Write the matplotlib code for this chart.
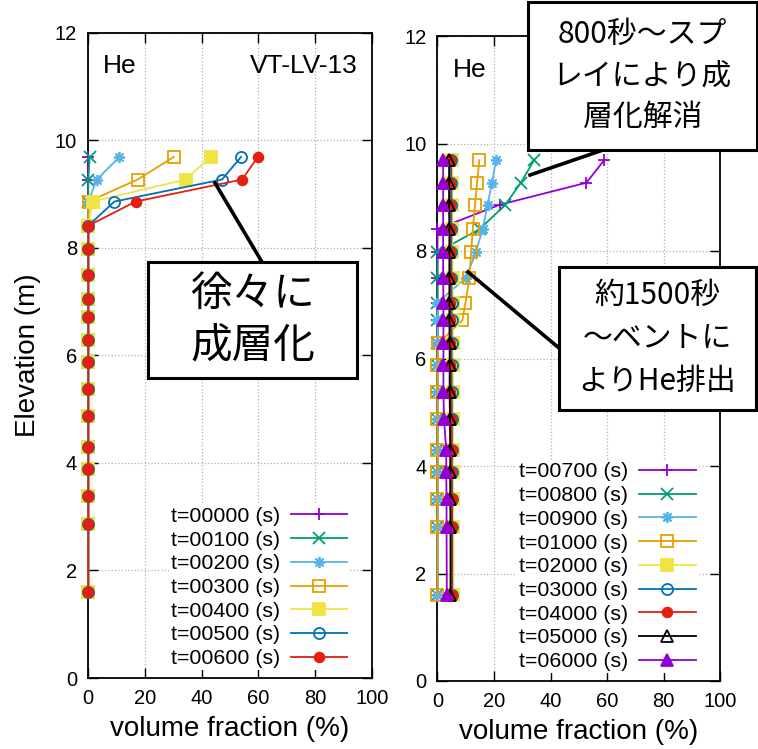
import matplotlib
matplotlib.use("Agg")
import matplotlib.pyplot as plt
from matplotlib.lines import Line2D
from matplotlib.patches import Rectangle

plt.rcParams['font.family'] = ['Liberation Sans', 'Noto Sans CJK JP', 'DejaVu Sans']

# elevation of the nodes (m)
elev = [1.6, 2.87, 3.38, 3.88, 4.3, 4.87, 5.37, 5.88, 6.28, 6.71, 7.04, 7.5, 7.98, 8.41, 8.86, 9.27, 9.69]

#region left panel data (volume fraction %)
left_labels = ["t=00000 (s)", "t=00100 (s)", "t=00200 (s)", "t=00300 (s)",
               "t=00400 (s)", "t=00500 (s)", "t=00600 (s)"]
t00000 = [0, 0, 0, 0, 0, 0, 0, 0, 0, 0, 0, 0, 0, 0, 0, 0, 0]
t00100 = [0, 0, 0, 0, 0, 0, 0, 0, 0, 0, 0, 0, 0, 0, 0, 0, 0.5]
t00200 = [0, 0, 0, 0, 0, 0, 0, 0, 0, 0, 0, 0, 0, 0, 0, 3.0, 11.0]
t00300 = [0, 0, 0, 0, 0, 0, 0, 0, 0, 0, 0, 0, 0, 0, 0.1, 17.4, 30.2]
t00400 = [0, 0, 0, 0, 0, 0, 0, 0, 0, 0, 0, 0, 0, 0, 1.5, 34.3, 43.2]
t00500 = [0, 0, 0, 0, 0, 0, 0, 0, 0, 0, 0, 0, 0, 0, 9.2, 47.2, 53.9]
t00600 = [0, 0, 0, 0, 0, 0, 0, 0, 0, 0, 0, 0, 0, 0, 16.7, 54.3, 59.8]
left_series = [t00000, t00100, t00200, t00300, t00400, t00500, t00600]
#endregion

#region right panel data
right_labels = ["t=00700 (s)", "t=00800 (s)", "t=00900 (s)", "t=01000 (s)", "t=02000 (s)",
                "t=03000 (s)", "t=04000 (s)", "t=05000 (s)", "t=06000 (s)"]
t00700 = [0, 0, 0, 0, 0, 0, 0, 0, 0, 0, 0, 0, 0, 0, 22.0, 52.7, 59.0]
t00800 = [0, 0, 0, 0, 0, 0, 0, 0, 0, 0, 0, 0, 0, 15.0, 24.0, 29.5, 34.2]
t00900 = [0, 0, 0, 0, 0, 0, 0, 0, 0, 0, 0, 10.1, 13.6, 16.0, 17.7, 19.3, 20.7]
t01000 = [0, 0, 0, 0, 0, 0, 0, 0, 0.3, 8.8, 9.9, 11.3, 11.9, 12.5, 13.3, 14.0, 14.8]
t02000 = [5.6, 5.6, 5.6, 5.5, 5.5, 5.5, 5.5, 5.4, 5.4, 5.4, 5.4, 5.4, 5.3, 5.3, 5.3, 5.3, 5.2]
t03000 = [5.2, 5.2, 5.2, 5.1, 5.1, 5.1, 5.0, 5.0, 5.0, 5.0, 5.0, 4.9, 4.9, 4.9, 4.9, 4.9, 4.8]
t04000 = [5.0, 5.0, 5.0, 4.8, 5.1, 4.8, 4.6, 4.6, 4.6, 4.5, 4.5, 4.5, 4.5, 4.4, 4.4, 4.4, 4.4]
t05000 = [4.6, 4.6, 4.5, 4.5, 4.5, 4.4, 4.3, 4.3, 4.3, 4.2, 4.2, 4.2, 4.2, 4.2, 4.1, 4.1, 4.1]
t06000 = [3.3, 3.2, 3.2, 3.1, 3.1, 2.3, 2.1, 2.1, 2.1, 2.1, 2.1, 2.0, 2.0, 2.0, 2.0, 2.0, 2.0]
right_series = [t00700, t00800, t00900, t01000, t02000, t03000, t04000, t05000, t06000]
#endregion

# gnuplot-like styles: (color, marker, filled)
styles = [
    ('#9400d3', '+', True),
    ('#009e73', 'x', True),
    ('#56b4e9', (8, 2, 0), True),
    ('#e69f00', 's', False),
    ('#f0e442', 's', True),
    ('#0072b2', 'o', False),
    ('#e51e10', 'o', True),
    ('#000000', '^', False),
    ('#9400d3', '^', True),
]

W, H = 758, 749
fig = plt.figure(figsize=(W / 100, H / 100), dpi=100)


def rect(x0, x1, ytop, ybot):
    return [x0 / W, 1 - ybot / H, (x1 - x0) / W, (ybot - ytop) / H]


axL = fig.add_axes(rect(88.3, 371.7, 32.7, 678))
axR = fig.add_axes(rect(437.5, 720, 36, 681))


def draw(ax, series, labels, style_list):
    for vals, lab, (c, m, filled) in zip(series, labels, style_list):
        ms = 7 if m == 'o' and filled else 8
        ax.plot(vals, elev, color=c, lw=1.3, marker=m, ms=ms, mew=1.3,
                mfc=c if filled else 'none', mec=c, label=lab, clip_on=False, zorder=3)
    ax.set_xlim(0, 100)
    ax.set_ylim(0, 12)
    ax.set_xticks([0, 20, 40, 60, 80, 100])
    ax.set_yticks([0, 2, 4, 6, 8, 10, 12])
    ax.tick_params(direction='in', top=True, right=True, length=7, width=1,
                   labelsize=14.5, pad=8)
    ax.grid(True, color='#b0b0b0', ls=':', lw=0.9)
    ax.set_axisbelow(True)
    for s in ax.spines.values():
        s.set_linewidth(1.3)
    ax.set_xlabel('volume fraction (%)', fontsize=20, labelpad=6)
    leg = ax.legend(loc='lower right', bbox_to_anchor=(0.922, 0.012), markerfirst=False,
                    fontsize=15.4, handlelength=2.65, handletextpad=0.5, labelspacing=0.22,
                    borderpad=0.1, borderaxespad=0, frameon=True, fancybox=False,
                    edgecolor='none', facecolor='white', framealpha=1, numpoints=1)
    leg.set_zorder(5)


draw(axL, left_series, left_labels, styles[:7])
draw(axR, right_series, right_labels, styles)
axL.set_ylabel('Elevation (m)', fontsize=20, labelpad=10)

axL.text(0.053, 0.948, 'He', transform=axL.transAxes, fontsize=19, va='center', ha='left')
axL.text(0.95, 0.948, 'VT-LV-13', transform=axL.transAxes, fontsize=19, va='center', ha='right')
axR.text(0.055, 0.948, 'He', transform=axR.transAxes, fontsize=19, va='center', ha='left')


#region annotation boxes
def box(x0, x1, ytop, ybot, text, size, ls):
    fig.add_artist(Rectangle((x0 / W, 1 - ybot / H), (x1 - x0) / W, (ybot - ytop) / H,
                             transform=fig.transFigure, facecolor='white', edgecolor='black',
                             lw=2.2, zorder=10))
    fig.text((x0 + x1) / 2 / W, 1 - (ytop + ybot) / 2 / H, text, ha='center', va='center',
             fontsize=size, linespacing=ls, zorder=11,
             family=['Noto Sans CJK JP', 'DejaVu Sans'])


def line(xa, ya, xb, yb):
    fig.add_artist(Line2D([xa / W, xb / W], [1 - ya / H, 1 - yb / H], transform=fig.transFigure,
                          color='black', lw=2.6, zorder=10))


line(215, 183, 262, 262)
box(148, 357, 262, 378, '徐々に\n成層化', 30, 1.35)

line(530, 175, 603, 150)
box(528, 757, 2, 150, '800秒～スプ\nレイにより成\n層化解消', 21.5, 1.45)

line(468, 272, 559, 348)
box(559, 756, 267, 410, '約1500秒\n～ベントに\nよりHe排出', 21.5, 1.5)
#endregion

fig.savefig('out.png', dpi=100)
